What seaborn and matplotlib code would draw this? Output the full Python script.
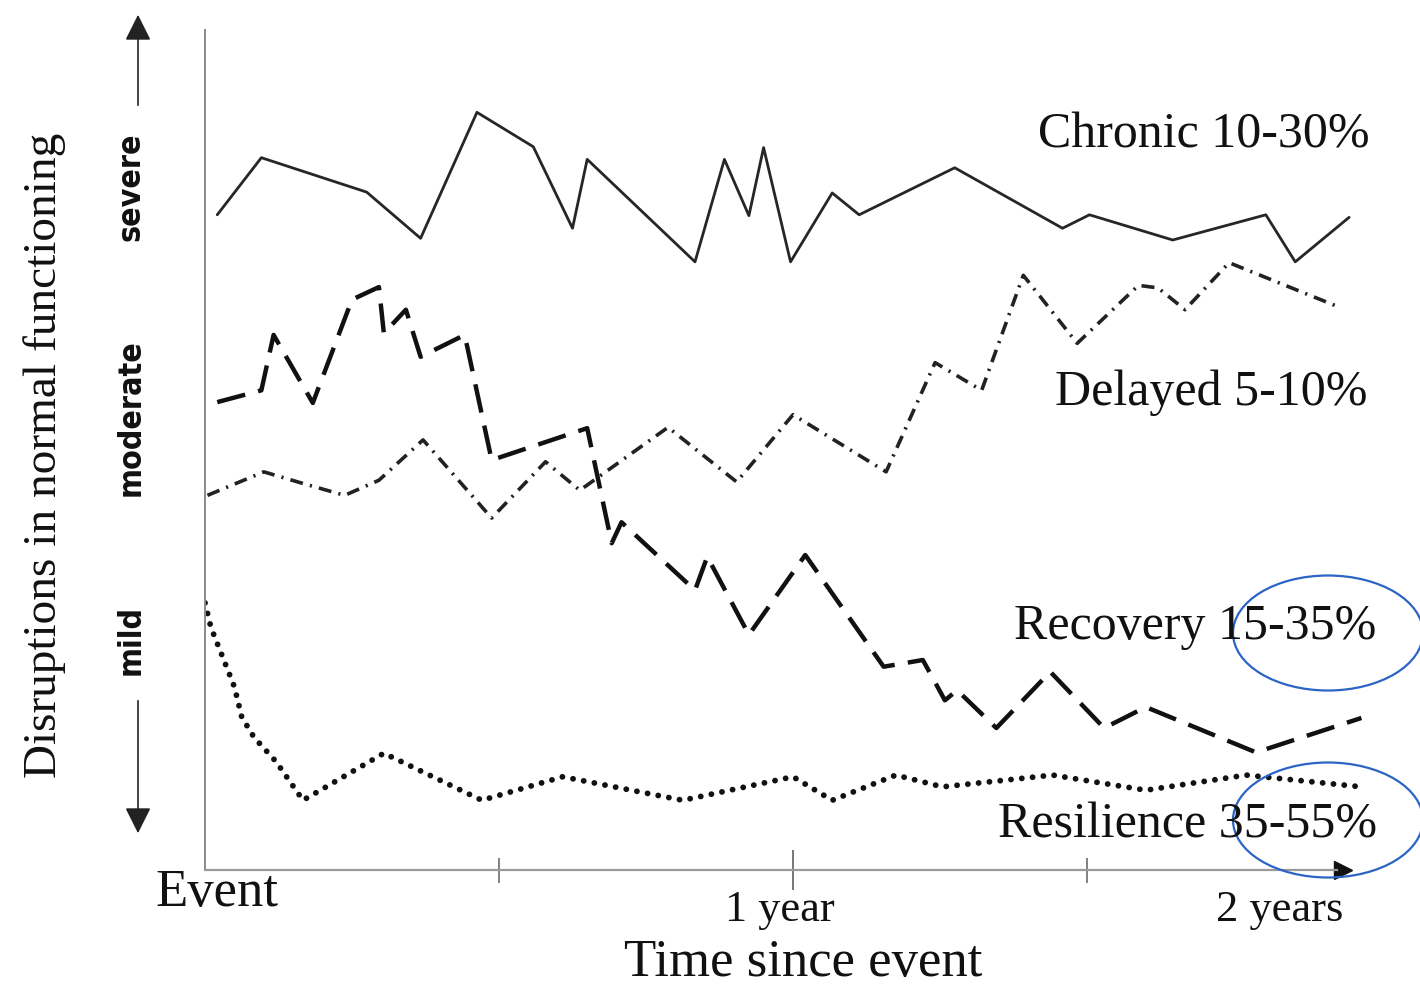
import matplotlib
matplotlib.use("Agg")
import matplotlib.pyplot as plt
from matplotlib.patches import Ellipse, FancyArrowPatch
import pandas as pd
import seaborn as sns

# x = months since the event, y = disruption score (0 = none, 100 = very severe)
chronic_month = [0.25, 1.15, 3.3, 4.4, 5.55, 6.7, 7.5, 7.8, 10.0, 10.6, 11.1,
                 11.4, 11.95, 12.8, 13.35, 15.3, 17.5, 18.05, 19.75, 21.65, 22.25, 23.35]
chronic_level = [78, 84.8, 80.7, 75.2, 90.2, 86.1, 76.4, 84.6, 72.4, 84.6, 77.9,
                 86, 72.4, 80.6, 78, 83.6, 76.4, 78, 75, 78, 72.4, 77.7]

delayed_month = [0.05, 1.2, 1.95, 2.85, 3.55, 4.45, 5.85, 6.95, 7.65, 9.45, 10.85,
                 12.0, 13.9, 14.9, 15.85, 16.7, 17.8, 19.05, 19.45, 20.0, 20.9, 23.15]
delayed_level = [44.6, 47.4, 46.1, 44.6, 46.4, 51.2, 41.9, 48.6, 45.2, 52.7, 46.2,
                 54.2, 47.4, 60.4, 57.1, 70.8, 62.7, 69.6, 69.3, 66.7, 72.3, 67.0]

recovery_month = [0.25, 1.15, 1.4, 2.2, 3.0, 3.55, 3.65, 4.1, 4.4, 5.3, 5.85, 7.8,
                  8.3, 8.5, 10.0, 10.25, 11.1, 12.25, 13.85, 14.65, 15.1, 15.35,
                  16.15, 17.25, 18.35, 19.2, 21.45, 23.6]
recovery_level = [55.7, 57.1, 63.7, 55.6, 67.9, 69.4, 63.9, 66.7, 61.1, 63.7, 48.8, 52.6,
                  38.9, 41.4, 33.3, 37.3, 28.0, 37.5, 24.2, 25.0, 20.2, 21.4,
                  16.9, 23.6, 16.9, 19.4, 14.0, 18.1]

resilience_month = [0.0, 0.12, 0.33, 0.6, 0.75, 1.0, 1.45, 2.0, 3.65, 5.65, 7.3,
                    9.75, 12.0, 12.8, 14.1, 15.05, 17.3, 19.2, 21.25, 23.6]
resilience_level = [31.8, 28.9, 25.8, 21.8, 18.2, 15.8, 12.9, 8.3, 13.9, 8.3, 11.1,
                    8.3, 11.1, 8.3, 11.3, 9.9, 11.3, 9.5, 11.3, 9.9]

patterns = ["Chronic", "Delayed", "Recovery", "Resilience"]
pattern_labels = ["Chronic 10-30%", "Delayed 5-10%", "Recovery 15-35%", "Resilience 35-55%"]
severity_labels = ["severe", "moderate", "mild"]
time_labels = ["Event", "1 year", "2 years"]

df = pd.concat([
    pd.DataFrame({"month": chronic_month, "level": chronic_level, "pattern": "Chronic"}),
    pd.DataFrame({"month": delayed_month, "level": delayed_level, "pattern": "Delayed"}),
    pd.DataFrame({"month": recovery_month, "level": recovery_level, "pattern": "Recovery"}),
    pd.DataFrame({"month": resilience_month, "level": resilience_level, "pattern": "Resilience"}),
], ignore_index=True)

sns.set_style("white")
plt.rcParams["font.family"] = ["Liberation Serif", "DejaVu Serif"]

W, H = 1420, 985
fig = plt.figure(figsize=(W / 100, H / 100), dpi=100)
ax = fig.add_axes([205 / W, 115 / H, 1176 / W, 840 / H])


def at(px, py):
    # pixel position in the figure -> figure fraction
    return px / W, 1 - py / H


# line look for each trajectory
looks = {
    "Chronic": dict(lw=2.0, color="#262626", dashes=None, cap="butt"),
    "Delayed": dict(lw=2.6, color="#222222", dashes=(3.6, 2.0, 0.6, 2.0), cap="butt"),
    "Recovery": dict(lw=3.2, color="#111111", dashes=(6.5, 3), cap="butt"),
    "Resilience": dict(lw=4.2, color="#111111", dashes=(0.01, 1.85), cap="round"),
}

for name in patterns:
    d = df[df["pattern"] == name]
    lk = looks[name]
    sns.lineplot(data=d, x="month", y="level", ax=ax, estimator=None, sort=False,
                 color=lk["color"], linewidth=lk["lw"], legend=False)
    line = ax.lines[-1]
    if lk["dashes"]:
        line.set_dashes(lk["dashes"])
    line.set_dash_capstyle(lk["cap"])

ax.set_xlim(0, 24)
ax.set_ylim(0, 100)
ax.set_xlabel("")
ax.set_ylabel("")
ax.set_yticks([])

# axes lines
for s in ["top", "right"]:
    ax.spines[s].set_visible(False)
ax.spines["left"].set_color("#8a8a8a")
ax.spines["left"].set_linewidth(1.4)
ax.spines["bottom"].set_color("#9a9a9a")
ax.spines["bottom"].set_linewidth(1.6)
ax.spines["bottom"].set_bounds(0, 23.1)
ax.plot([23.22], [0], marker=">", color="#111111", ms=13, clip_on=False)

ax.set_xticks([12])
ax.set_xticklabels([""])
ax.set_xticks([6, 18], minor=True)
ax.tick_params(axis="x", which="major", direction="inout", length=29, width=1.4,
               color="#777777", bottom=True)
ax.tick_params(axis="x", which="minor", direction="inout", length=18, width=1.3,
               color="#777777", bottom=True)

# trajectory names
label_pos = [(1204, 135), (1211, 393), (1195, 627), (1188, 825)]
for txt, (px, py) in zip(pattern_labels, label_pos):
    fig.text(*at(px, py), txt, ha="center", va="center", fontsize=36, color="#111111")

# time labels
fig.text(*at(217, 893), time_labels[0], ha="center", va="center", fontsize=38, color="#111111")
fig.text(*at(780, 910), time_labels[1], ha="center", va="center", fontsize=32, color="#111111")
fig.text(*at(1280, 910), time_labels[2], ha="center", va="center", fontsize=32, color="#111111")
fig.text(*at(803, 963), "Time since event", ha="center", va="center", fontsize=38, color="#111111")

# y label and severity scale
fig.text(*at(45, 455), "Disruptions in normal functioning", rotation=90,
         ha="center", va="center", fontsize=34, color="#111111")
sev_pos = [(131, 187), (131, 418), (131, 640)]
for txt, (px, py) in zip(severity_labels, sev_pos):
    fig.text(*at(px, py), txt, rotation=90, ha="center", va="center", fontsize=23,
             fontweight="bold", fontstretch="condensed", family="DejaVu Sans",
             color="#111111")

fig.add_artist(FancyArrowPatch(at(138, 108), at(138, 12), transform=fig.transFigure,
                               arrowstyle="-|>,head_length=0.8,head_width=0.4",
                               mutation_scale=20, color="#222222", lw=1.2))
fig.add_artist(FancyArrowPatch(at(138, 698), at(138, 836), transform=fig.transFigure,
                               arrowstyle="-|>,head_length=0.8,head_width=0.4",
                               mutation_scale=20, color="#222222", lw=1.2))

# highlight circles
for cy in (633, 820):
    fig.add_artist(Ellipse(at(1328, cy), 190 / W, 115 / H, transform=fig.transFigure,
                           fill=False, edgecolor="#2c64c6", lw=1.6))

fig.savefig("out.png", dpi=100)
